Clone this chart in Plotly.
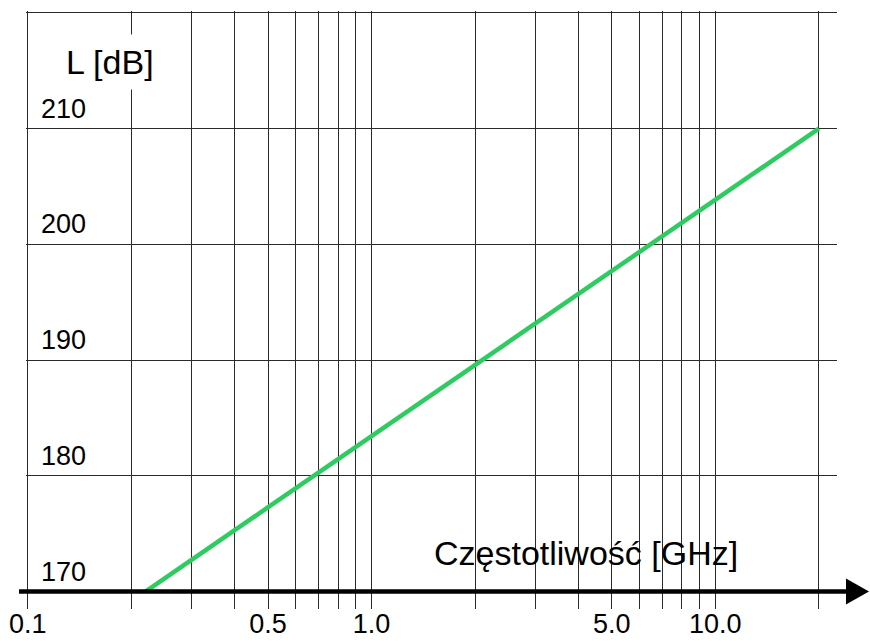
import plotly.graph_objects as go

# Path loss vs. frequency (straight line on a logarithmic frequency axis)
freq_ghz = [0.22, 20.0]
loss_db = [170, 210]

# Grid / tick definitions
x_grid = [0.1, 0.2, 0.3, 0.4, 0.5, 0.6, 0.7, 0.8, 0.9, 1.0,
          2, 3, 4, 5, 6, 7, 8, 9, 10, 20]
x_labels = ["0.1", "", "", "", "0.5", "", "", "", "", "1.0",
            "", "", "", "5.0", "", "", "", "", "10.0", ""]
y_grid = [170, 180, 190, 200, 210, 220]
y_labels = ["170", "180", "190", "200", "210", ""]

FONT = "Liberation Sans, Arial, sans-serif"
GRID = "#2a2a2a"

fig = go.Figure(
    go.Scatter(
        x=freq_ghz, y=loss_db, mode="lines",
        line=dict(color="#2ecc60", width=4.5),
        hoverinfo="skip",
    )
)

# plot area: x 26..837 px, y 11..609 px
fig.update_layout(
    width=870, height=641,
    margin=dict(l=26, r=33, t=11, b=32),
    plot_bgcolor="white", paper_bgcolor="white",
    showlegend=False,
    font=dict(family=FONT, color="black"),
)

# the outermost grid lines (0.1 GHz and 220 dB) frame the chart,
# so keep them a couple of pixels inside the range ends
fig.update_xaxes(
    type="log",
    range=[-1.005, 1.354],
    tickvals=x_grid, ticktext=x_labels,
    ticks="", showline=False, zeroline=False, automargin=False,
    showgrid=True, gridcolor=GRID, gridwidth=1,
    tickfont=dict(size=27, family=FONT, color="black"),
    tickangle=0, ticklabelstandoff=-4,
)

fig.update_yaxes(
    range=[168.49, 220.17],
    tickvals=y_grid,
    ticks="", showline=False, zeroline=False, automargin=False,
    showgrid=True, gridcolor=GRID, gridwidth=1,
    showticklabels=False,
)

# Level labels sit inside the plot, just above their grid lines
for val, txt in zip(y_grid, y_labels):
    if txt:
        fig.add_annotation(
            text=txt, xref="paper", yref="y", x=0.0165, y=val,
            xanchor="left", yanchor="middle", yshift=20,
            showarrow=False, font=dict(size=27, family=FONT, color="black"),
        )

# Axis titles drawn inside the plotting area
fig.add_annotation(
    text="L [dB]", xref="paper", yref="paper", x=0.104, y=0.9145,
    xanchor="center", yanchor="middle",
    showarrow=False, font=dict(size=34, family=FONT, color="black"),
    bgcolor="white", borderpad=8,
)
fig.add_annotation(
    text="Częstotliwość [GHz]", xref="paper", yref="paper", x=0.691, y=0.094,
    xanchor="center", yanchor="middle",
    showarrow=False, font=dict(size=34, family=FONT, color="black"),
)

# Thick frequency axis with arrowhead at y = 170 dB
fig.add_shape(
    type="line", xref="paper", yref="y",
    x0=-0.0086, x1=1.013, y0=y_grid[0], y1=y_grid[0],
    line=dict(color="black", width=4.5), layer="above",
)
fig.add_shape(
    type="path", xref="paper", yref="y",
    xsizemode="pixel", ysizemode="pixel",
    xanchor=1.0, yanchor=y_grid[0],
    path="M 9 -13 L 32 0 L 9 13 Z",
    fillcolor="black", line=dict(color="black", width=0), layer="above",
)

fig.write_html("out.html")
